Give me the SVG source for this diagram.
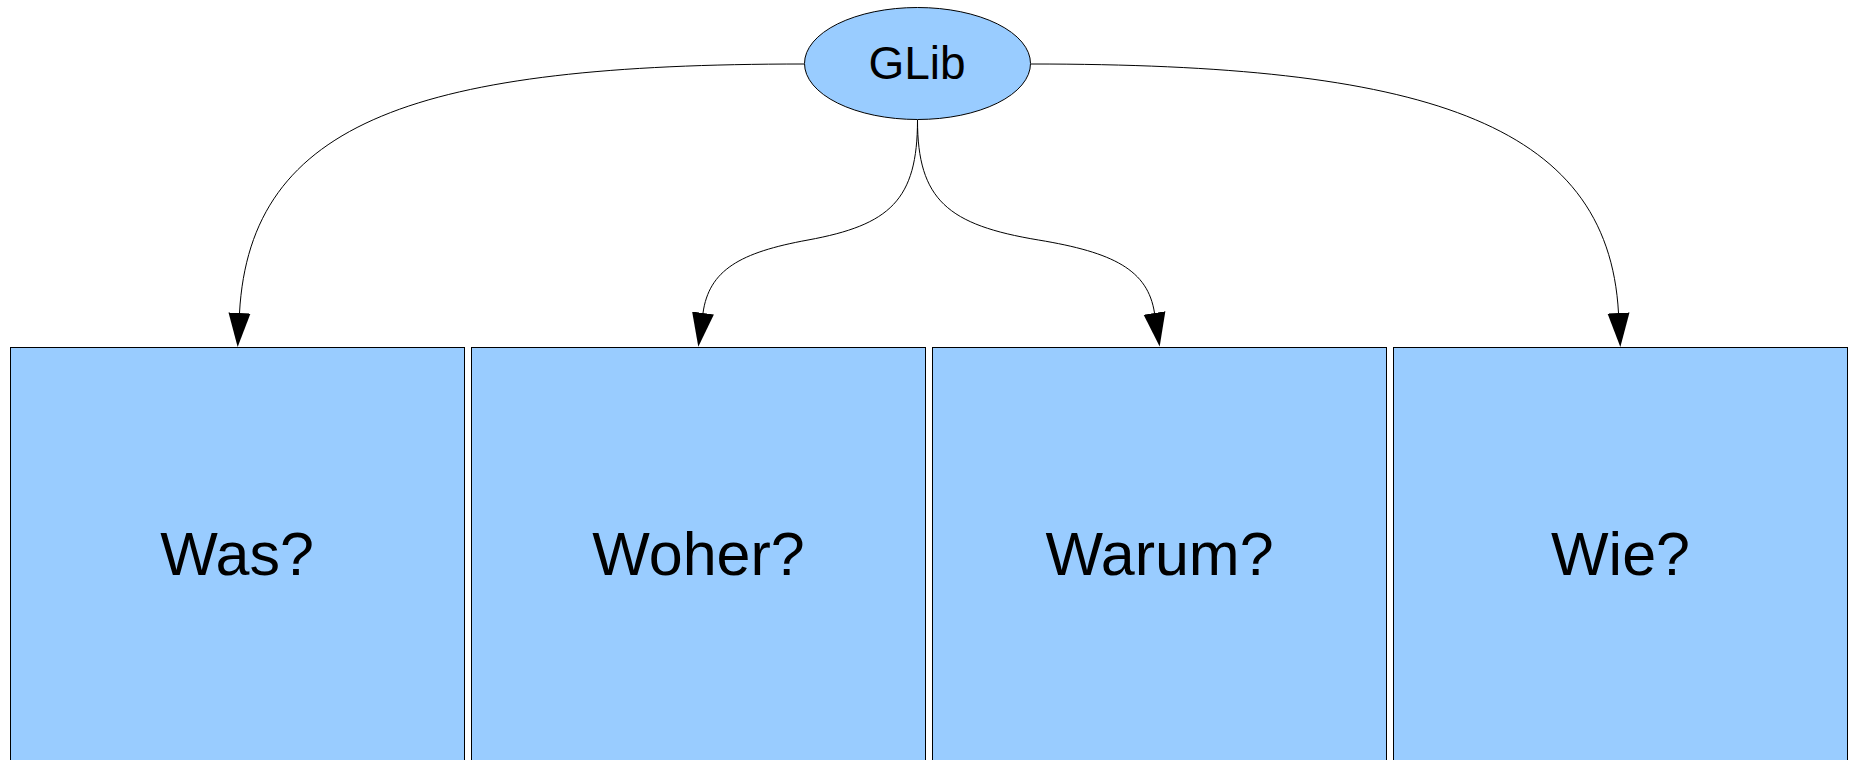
<svg xmlns="http://www.w3.org/2000/svg" width="1850" height="760" viewBox="0 0 1850 760">
<defs>
<style>
.node{fill:#99ccff;stroke:#000;stroke-width:1}
.lbl{font-family:"Liberation Sans",Arial,sans-serif;fill:#000;text-anchor:middle}
.conn{fill:none;stroke:#000;stroke-width:1}
</style>
<marker id="arr" markerUnits="userSpaceOnUse" markerWidth="36" markerHeight="24" refX="0" refY="11" orient="auto" viewBox="0 0 36 22">
<path d="M0,0 L34,11 L0,22 z" fill="#000"/>
</marker>
</defs>
<rect width="1850" height="760" fill="#fff"/>
<g id="connectors">
<path class="conn" marker-end="url(#arr)" d="M804,64 C420,64 250,120 239.5,313"/>
<path class="conn" marker-end="url(#arr)" d="M917.5,120 C917.5,200 890,225 808,240 C740,252.4 709,270 703,313"/>
<path class="conn" marker-end="url(#arr)" d="M917.5,120 C917.5,200 947.9,225 1038.5,240 C1113.6,252.4 1147.9,270 1154.5,313"/>
<path class="conn" marker-end="url(#arr)" d="M1031,64 C1420,64 1608,120 1618.5,313"/>
</g>
<g id="glib">
<ellipse class="node" cx="917.5" cy="63.5" rx="113" ry="56"/>
<text class="lbl" x="917" y="79" font-size="46">GLib</text>
</g>
<g id="was">
<rect class="node" x="10.5" y="347.5" width="454" height="450"/>
<text class="lbl" x="237" y="575" font-size="61">Was?</text>
</g>
<g id="woher">
<rect class="node" x="471.5" y="347.5" width="454" height="450"/>
<text class="lbl" x="698.5" y="575" font-size="61">Woher?</text>
</g>
<g id="warum">
<rect class="node" x="932.5" y="347.5" width="454" height="450"/>
<text class="lbl" x="1159.5" y="575" font-size="61">Warum?</text>
</g>
<g id="wie">
<rect class="node" x="1393.5" y="347.5" width="454" height="450"/>
<text class="lbl" x="1620.5" y="575" font-size="61">Wie?</text>
</g>
</svg>
